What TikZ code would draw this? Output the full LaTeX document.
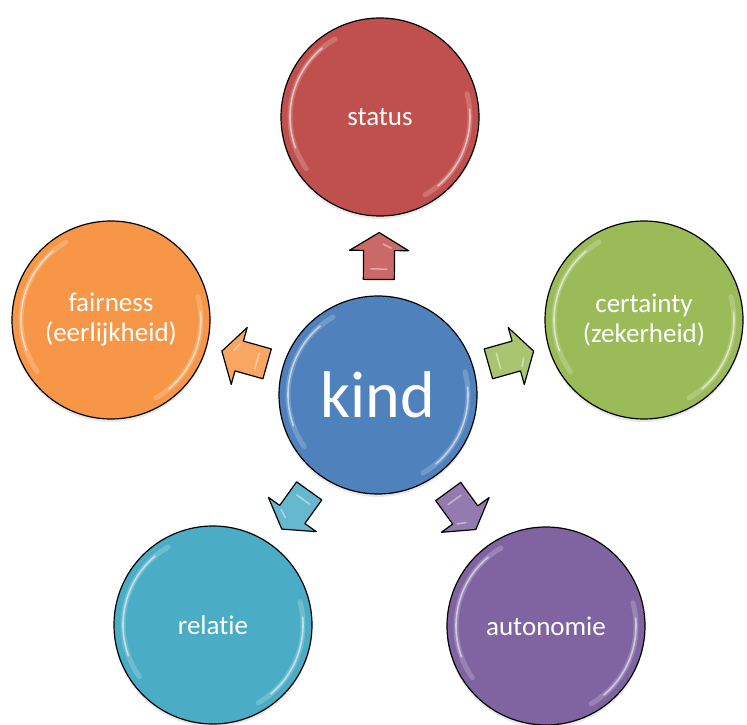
\documentclass[tikz,border=0pt]{standalone}
\usepackage{fontspec}
\setmainfont{Carlito}[Ligatures=NoCommon]
\usetikzlibrary{calc}
\usetikzlibrary{shadows}
\definecolor{kindblue}{HTML}{4F81BD}
\definecolor{statusred}{HTML}{C0504D}
\definecolor{certaintygreen}{HTML}{9BBB59}
\definecolor{fairnessorange}{HTML}{F79646}
\definecolor{relatieblue}{HTML}{4BACC6}
\definecolor{autonomiepurple}{HTML}{8064A2}

\begin{document}
\begin{tikzpicture}[x=1pt,y=1pt,
  bol/.style={circle,draw=black,line width=1.2pt,minimum size=198pt,inner sep=0pt,
    text=white,align=center,font=\fontsize{27}{30}\selectfont,
    drop shadow={opacity=0.18,shadow xshift=0pt,shadow yshift=-3pt}},
  glans/.style={white,line cap=round,line width=5pt,opacity=0.2},
  glanskern/.style={white,line cap=round,line width=1.6pt,opacity=0.55},
  pics/pijl/.style={code={
    \draw[line width=1.2pt,line join=round,fill=#1!85!white]
      (-23.5,-15.5) -- (5.5,-15.5) -- (5.5,-29.5) -- (23.5,0) -- (5.5,29.5)
      -- (5.5,15.5) -- (-23.5,15.5) -- cycle;
    \draw[white,opacity=0.45,line width=1.5pt,line cap=round] (-13,-8) -- (-13,8);
    \draw[white,opacity=0.45,line width=1.5pt,line cap=round] (8,-12) -- (12,-4);
  }}]
\useasboundingbox (0,0) rectangle (747,724);

% de cirkels
\node[bol,fill=kindblue,font=\fontsize{66}{70}\selectfont] (kind) at (378,329) {kind};
\node[bol,fill=statusred] (status) at (380,607) {status};
\node[bol,fill=certaintygreen] (certainty) at (644,404) {certainty\\(zekerheid)};
\node[bol,fill=fairnessorange] (fairness) at (111,404) {fairness\\(eerlijkheid)};
\node[bol,fill=relatieblue] (relatie) at (213,99) {relatie};
\node[bol,fill=autonomiepurple] (autonomie) at (546,98) {autonomie};

% glans
\foreach \n in {kind,status,certainty,fairness,relatie,autonomie}{
  \draw[glans] (\n.center) ++(120:90) arc[start angle=120,end angle=215,radius=90];
  \draw[glanskern] (\n.center) ++(130:90) arc[start angle=130,end angle=200,radius=90];
  \draw[glans] (\n.center) ++(-60:90) arc[start angle=-60,end angle=15,radius=90];
  \draw[glanskern] (\n.center) ++(-50:90) arc[start angle=-50,end angle=5,radius=90];
}

% de pijlen
\path (kind) -- (status) pic[midway,sloped,allow upside down]{pijl=statusred};
\path (kind) -- (certainty) pic[midway,sloped,allow upside down]{pijl=certaintygreen};
\path (kind) -- (fairness) pic[midway,sloped,allow upside down]{pijl=fairnessorange};
\path (kind) -- (relatie) pic[midway,sloped,allow upside down]{pijl=relatieblue};
\path (kind) -- (autonomie) pic[midway,sloped,allow upside down]{pijl=autonomiepurple};

\end{tikzpicture}
\end{document}
